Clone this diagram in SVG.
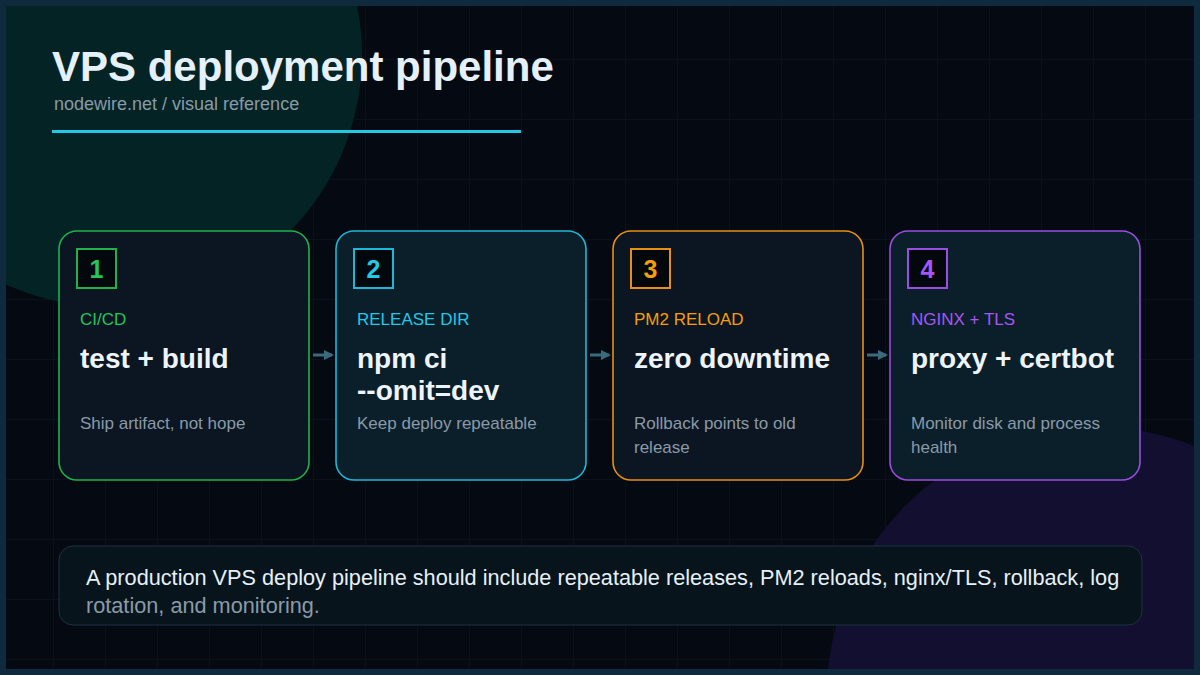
<svg xmlns="http://www.w3.org/2000/svg" width="1200" height="675" viewBox="0 0 1200 675">
<defs>
<pattern id="grid" x="2" y="0" width="52" height="60" patternUnits="userSpaceOnUse">
<path d="M52 0V60M0 60H52" fill="none" stroke="#0c1722" stroke-width="1"/>
</pattern>
<marker id="ah" markerWidth="10" markerHeight="10" refX="8" refY="5" orient="auto" markerUnits="userSpaceOnUse"><path d="M0 0L10 5L0 10Z" fill="#3b6a7d"/></marker>
<style>
text{font-family:"Liberation Sans",Arial,sans-serif}
.card{stroke-width:1.6}
.lab{font-size:17px}
.big{font-size:28px;font-weight:bold;fill:#eef4fa}
.desc{font-size:17px;fill:#8a9aa8}
.num{font-size:25px;font-weight:bold}
.conn{stroke:#3b6a7d;stroke-width:3;fill:none}
</style>
</defs>
<rect width="1200" height="675" fill="#050a12"/>
<rect width="1200" height="675" fill="url(#grid)"/>
<circle cx="110" cy="55" r="252" fill="#042325"/>
<circle cx="1095" cy="695" r="268" fill="#120f30"/>
<rect x="3" y="3" width="1194" height="669" fill="none" stroke="#0f2a3d" stroke-width="6"/>
<text x="52" y="81" font-size="42" font-weight="bold" fill="#e6f0f8">VPS deployment pipeline</text>
<text x="54" y="110" font-size="18" fill="#8a9aa8">nodewire.net / visual reference</text>
<rect x="52" y="130" width="469" height="3" fill="#22c8e6"/>
<g id="connectors">
<line class="conn" x1="313" y1="355" x2="332" y2="355" marker-end="url(#ah)"/>
<line class="conn" x1="590" y1="355" x2="609" y2="355" marker-end="url(#ah)"/>
<line class="conn" x1="867" y1="355" x2="886" y2="355" marker-end="url(#ah)"/>
</g>
<g id="n1">
<rect class="card" x="59" y="231" width="250" height="249" rx="18" fill="#0b1622" stroke="#1fb24a"/>
<rect x="77" y="249" width="39" height="39" fill="#03080c" stroke="#1fb24a" stroke-width="2"/>
<text class="num" x="96.5" y="278" text-anchor="middle" fill="#22c55e">1</text>
<text class="lab" x="80" y="325" fill="#22c55e">CI/CD</text>
<text class="big" x="80" y="368">test + build</text>
<text class="desc" x="80" y="429">Ship artifact, not hope</text>
</g>
<g id="n2">
<rect class="card" x="336" y="231" width="250" height="249" rx="18" fill="#0a1f2a" stroke="#1cb8d8"/>
<rect x="354" y="249" width="39" height="39" fill="#03080c" stroke="#1cb8d8" stroke-width="2"/>
<text class="num" x="373.5" y="278" text-anchor="middle" fill="#22c8e6">2</text>
<text class="lab" x="357" y="325" fill="#22c8e6">RELEASE DIR</text>
<text class="big" x="357" y="368">npm ci</text>
<text class="big" x="357" y="400">--omit=dev</text>
<text class="desc" x="357" y="429">Keep deploy repeatable</text>
</g>
<g id="n3">
<rect class="card" x="613" y="231" width="250" height="249" rx="18" fill="#0b1622" stroke="#e89012"/>
<rect x="631" y="249" width="39" height="39" fill="#03080c" stroke="#e89012" stroke-width="2"/>
<text class="num" x="650.5" y="278" text-anchor="middle" fill="#f59e0b">3</text>
<text class="lab" x="634" y="325" fill="#f59e0b">PM2 RELOAD</text>
<text class="big" x="634" y="368">zero downtime</text>
<text class="desc" x="634" y="429">Rollback points to old</text>
<text class="desc" x="634" y="453">release</text>
</g>
<g id="n4">
<rect class="card" x="890" y="231" width="250" height="249" rx="18" fill="#0a1f2a" stroke="#9b4de0"/>
<rect x="908" y="249" width="39" height="39" fill="#03080c" stroke="#9b4de0" stroke-width="2"/>
<text class="num" x="927.5" y="278" text-anchor="middle" fill="#a855f7">4</text>
<text class="lab" x="911" y="325" fill="#a855f7">NGINX + TLS</text>
<text class="big" x="911" y="368">proxy + certbot</text>
<text class="desc" x="911" y="429">Monitor disk and process</text>
<text class="desc" x="911" y="453">health</text>
</g>
<g id="note">
<rect x="59" y="546" width="1083" height="79" rx="14" fill="#07141c" stroke="#1e3140" stroke-width="1"/>
<text x="86" y="585" font-size="21.7" fill="#e6f0f8">A production VPS deploy pipeline should include repeatable releases, PM2 reloads, nginx/TLS, rollback, log</text>
<text x="86" y="613" font-size="21.7" fill="#8a9aa8">rotation, and monitoring.</text>
</g>
</svg>
